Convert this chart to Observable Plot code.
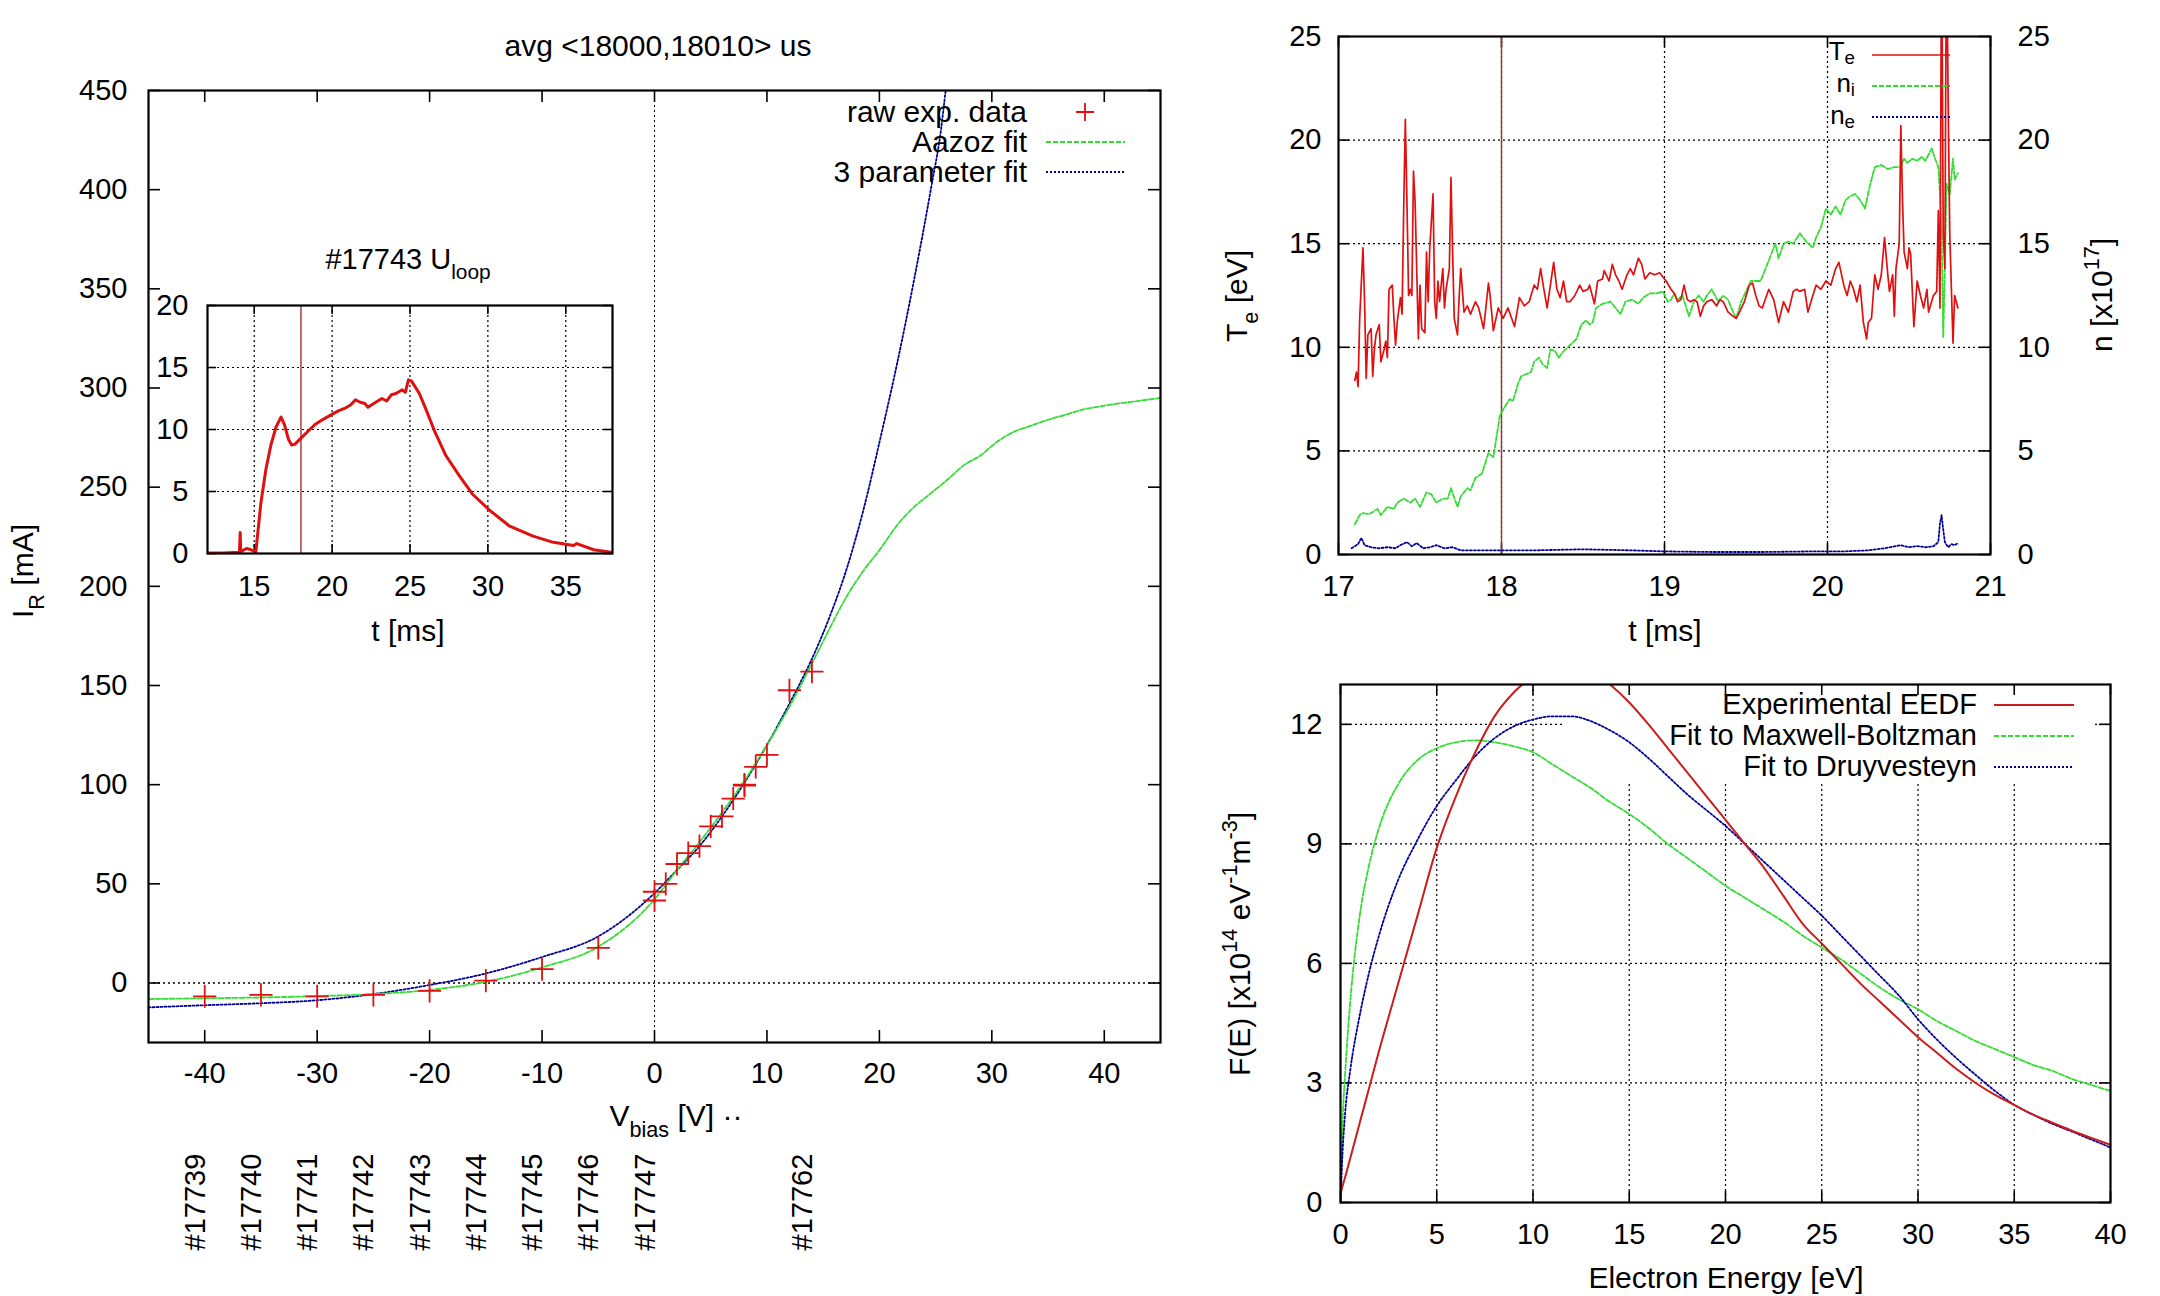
<!DOCTYPE html>
<html><head><meta charset="utf-8">
<script src="https://cdn.jsdelivr.net/npm/d3@7"></script>
<script src="https://cdn.jsdelivr.net/npm/@observablehq/plot@0.6"></script>
<style>
html,body{margin:0;padding:0;background:#fff;overflow:hidden}
#wrap{position:relative;width:2160px;height:1296px;background:#fff}
#wrap svg{position:absolute;left:0;top:0;max-width:none}
</style></head><body><div id="wrap"></div>
<script>
// ---------------- DATA ----------------
// main I-V panel
const vTicks = [-40,-30,-20,-10,0,10,20,30,40];
const iTicks = [0,50,100,150,200,250,300,350,400,450];
const rawV = [-40,-35,-30,-25,-20,-15,-10,-5,0,0,1,2,3,4,5,6,7,8,8,9,10,12,14];
const rawI = [-6.7,-6,-6.7,-6,-4,1.2,7,17.7,41.6,46,50,60,65.5,69,79,84,93,99.5,100,109,115,147.6,157];
const aazozV = [-45,-40,-35,-30,-25,-20,-15,-10,-5,0,2,4,6,8,10,12.2,14,15.6,17.1,18.6,20.1,21.6,23.1,24.6,26.1,27.5,29,30.5,32,33.5,35,36.5,38,39.5,41,42.4,45];
const aazozI = [-8.1,-7.7,-7.3,-6.6,-5.6,-3.5,0.6,7.9,18.3,42.2,57,71,86,102,120,141.4,161,179,195,208,219,231,240,247,254,261,266,273,278,281,284,286.4,289,290.6,292,293,295];
const threeV = [-45,-40,-35,-30,-25,-20,-15,-10,-5,0,2,4,6,8,10,12.2,13.8,15.6,17.1,18.6,20.1,21.6,23.1,24.6,25.5,25.9,26.5];
const threeI = [-12.3,-11.2,-10.2,-8.7,-5.6,-1,4.8,13.1,23.5,45.3,57,69,84,101,120,143,161,185,209,239,275,313,355,401,431,450,470];
const zeroLine = [0];
const shotV = [-40,-35,-30,-25,-20,-15,-10,-5,0,14];
const shotLabel = ["#17739","#17740","#17741","#17742","#17743","#17744","#17745","#17746","#17747","#17762"];
// inset U_loop
const uTicksX = [15,20,25,30,35];
const uTicksY = [0,5,10,15,20];
const uT = [12,13,14.05,14.1,14.13,14.5,14.8,15.0,15.1,15.43,15.75,16.08,16.4,16.72,16.94,17.2,17.4,17.6,18.0,18.4,18.9,19.4,19.96,20.4,20.8,21.2,21.5,21.8,22.1,22.3,22.55,22.8,23.2,23.5,23.8,24.1,24.5,24.7,24.9,25.1,25.3,25.6,26.0,26.6,27.3,28.15,29.0,30.1,31.4,32.9,34.2,35.5,35.7,36.8,37.9];
const uV = [0.05,0.05,0.1,1.7,0.15,0.4,0.3,0.2,0.1,4.1,6.8,8.8,10.2,11.0,10.4,9.2,8.75,8.8,9.3,9.8,10.4,10.8,11.2,11.5,11.7,12.0,12.4,12.2,12.1,11.8,12.0,12.2,12.5,12.3,12.8,12.9,13.2,13.0,14.0,13.9,13.5,12.9,11.7,9.8,7.9,6.3,4.8,3.5,2.2,1.4,0.9,0.65,0.8,0.3,0.1];
const shotMark = [18];
// top-right Te / n
const tTicksX = [17,18,19,20,21];
const tTicksY = [0,5,10,15,20,25];
const tGridX = [18,19,20];
const tGridY = [5,10,15,20];
const teT = [17.10,17.11,17.12,17.13,17.15,17.16,17.17,17.18,17.20,17.21,17.22,17.23,17.25,17.26,17.27,17.28,17.29,17.30,17.31,17.33,17.34,17.35,17.36,17.38,17.39,17.40,17.41,17.42,17.43,17.44,17.45,17.46,17.47,17.49,17.50,17.51,17.53,17.54,17.55,17.56,17.58,17.59,17.60,17.61,17.62,17.64,17.65,17.66,17.68,17.69,17.70,17.71,17.73,17.74,17.75,17.77,17.79,17.81,17.84,17.86,17.89,17.90,17.92,17.93,17.95,17.98,18.01,18.04,18.08,18.11,18.14,18.17,18.20,18.22,18.24,18.26,18.28,18.30,18.32,18.34,18.36,18.38,18.40,18.42,18.45,18.48,18.50,18.53,18.54,18.57,18.59,18.62,18.63,18.66,18.68,18.70,18.72,18.74,18.77,18.79,18.81,18.84,18.86,18.88,18.91,18.94,18.97,19.01,19.04,19.06,19.08,19.10,19.12,19.14,19.16,19.18,19.20,19.22,19.24,19.26,19.29,19.32,19.34,19.36,19.39,19.42,19.44,19.46,19.49,19.52,19.54,19.56,19.58,19.60,19.64,19.67,19.70,19.73,19.76,19.79,19.81,19.83,19.86,19.88,19.91,19.93,19.96,19.99,20.02,20.05,20.07,20.10,20.12,20.14,20.16,20.18,20.20,20.22,20.24,20.25,20.27,20.29,20.31,20.33,20.35,20.37,20.38,20.40,20.41,20.42,20.44,20.45,20.46,20.47,20.49,20.50,20.51,20.53,20.55,20.57,20.59,20.61,20.62,20.65,20.67,20.68,20.69,20.70,20.71,20.72,20.73,20.74,20.75,20.77,20.78,20.80];
const teV = [8.4,8.8,8.1,11.4,14.8,12.2,8.5,10.6,10.9,8.6,9.9,10.6,11.1,9.3,9.6,9.9,10.3,9.5,12.8,13.0,11.4,10.1,11.2,12.4,11.6,16.7,21.0,17.0,12.5,12.8,12.5,18.5,17.0,10.4,13.0,10.9,10.7,14.6,12.2,14.8,17.4,12.2,11.4,13.2,12.2,13.8,11.9,12.8,13.8,18.2,14.6,11.4,10.6,12.4,13.8,11.7,12.0,11.6,12.2,11.9,10.9,11.6,13.1,12.5,10.8,11.9,11.4,11.9,11.0,12.4,12.0,12.2,13.0,12.8,13.8,12.8,11.9,13.0,14.1,12.8,12.4,13.2,12.2,12.2,12.5,13.0,12.7,12.8,13.0,12.1,13.2,13.3,13.7,13.2,14.0,13.5,13.2,12.8,13.5,13.8,13.5,14.3,14.0,13.3,13.6,13.5,13.6,13.2,12.8,12.6,12.2,12.3,13.0,12.3,12.2,12.3,12.2,11.5,12.0,12.2,12.3,12.0,12.3,12.2,11.7,11.5,11.4,11.7,12.2,13.0,13.1,12.5,12.0,11.9,12.8,12.3,11.2,12.2,11.7,12.7,12.8,12.7,12.8,11.7,12.5,13.0,12.8,13.2,13.0,13.8,14.1,13.0,12.5,13.2,12.8,12.2,13.0,11.2,10.4,11.2,11.4,13.5,12.8,13.5,15.3,13.5,12.7,13.5,11.5,13.8,15.0,20.7,17.1,14.6,13.8,14.8,14.5,11.0,13.2,12.5,11.9,12.8,11.7,12.5,12.7,16.6,11.9,30,15.5,13.8,30,22.0,15.5,10.2,12.5,11.9];
const niT = [17.10,17.13,17.15,17.19,17.24,17.26,17.30,17.34,17.36,17.40,17.44,17.47,17.50,17.54,17.57,17.60,17.64,17.67,17.69,17.73,17.75,17.79,17.81,17.84,17.88,17.92,17.95,17.97,17.99,18.01,18.05,18.07,18.10,18.12,18.15,18.18,18.20,18.23,18.25,18.28,18.30,18.33,18.35,18.38,18.42,18.46,18.49,18.52,18.54,18.56,18.58,18.62,18.67,18.70,18.73,18.76,18.80,18.84,18.87,18.91,18.95,18.99,19.02,19.04,19.06,19.08,19.11,19.15,19.18,19.21,19.24,19.26,19.29,19.33,19.36,19.39,19.41,19.44,19.47,19.50,19.53,19.56,19.59,19.62,19.66,19.68,19.70,19.73,19.76,19.79,19.83,19.87,19.91,19.93,19.96,19.99,20.02,20.05,20.08,20.11,20.14,20.17,20.20,20.23,20.26,20.29,20.33,20.37,20.41,20.45,20.47,20.49,20.52,20.55,20.58,20.60,20.64,20.66,20.68,20.69,20.70,20.71,20.72,20.73,20.75,20.77,20.78,20.80];
const niV = [1.45,1.9,2.0,1.95,2.2,1.9,2.3,2.2,2.5,2.7,2.5,2.7,2.3,3.0,2.9,2.5,2.7,2.7,3.2,2.3,2.8,3.2,3.1,3.7,3.9,4.9,4.7,5.7,6.7,7.0,7.5,7.4,8.2,8.6,8.7,8.8,9.3,9.5,9.2,9.0,9.9,9.8,9.5,9.8,10.1,10.4,11.1,11.3,11.1,11.2,11.9,12.1,12.2,11.9,11.6,12.2,12.3,12.1,12.4,12.6,12.6,12.7,12.2,12.3,12.6,12.3,12.5,11.5,12.2,12.5,12.2,12.5,12.8,12.2,12.5,12.3,11.9,11.4,12.2,12.7,13.2,13.2,13.2,13.8,14.6,15.0,14.3,15.0,15.1,15.0,15.5,15.1,14.8,15.3,15.8,16.7,16.4,16.8,16.4,17.1,17.3,17.4,17.1,16.7,17.8,18.7,18.8,18.6,18.7,18.7,19.1,18.9,19.1,19.0,19.2,19.0,19.6,19.1,18.7,17.4,15.5,10.5,13.8,17.9,17.4,19.1,18.1,18.4];
const neT = [17.08,17.10,17.12,17.14,17.16,17.20,17.25,17.30,17.35,17.38,17.42,17.45,17.48,17.52,17.56,17.60,17.65,17.70,17.75,17.85,18.0,18.2,18.5,18.8,19.0,19.3,19.6,19.9,20.1,20.25,20.35,20.45,20.5,20.55,20.6,20.65,20.68,20.69,20.70,20.71,20.72,20.74,20.76,20.78,20.80];
const neV = [0.3,0.4,0.5,0.8,0.45,0.35,0.3,0.35,0.3,0.45,0.6,0.4,0.55,0.3,0.35,0.45,0.3,0.35,0.2,0.2,0.2,0.2,0.25,0.2,0.15,0.12,0.12,0.15,0.15,0.2,0.3,0.45,0.35,0.4,0.35,0.4,0.6,1.5,1.9,1.2,0.6,0.35,0.5,0.45,0.55];
// bottom-right EEDF
const eTicksX = [0,5,10,15,20,25,30,35,40];
const eTicksY = [0,3,6,9,12];
const eGridX = [5,10,15,20,25,30,35];
const eGridY = [3,6,9,12];
const energy = [0,0.1,0.25,0.5,1,1.5,2,3,4,5,6,7,8,9,10,11,12,13,14,15,16,17,18,19,20,21,22,23,24,25,26,27,28,29,30,31,32,33,34,35,36,37,38,39,40];
const eedfExp = [0.2,0.4,0.65,1.1,2.0,2.9,3.8,5.5,7.2,8.9,10.2,11.3,12.2,12.8,13.2,13.45,13.5,13.35,13.0,12.55,12.0,11.4,10.8,10.2,9.6,9.0,8.4,7.7,7.0,6.5,6.0,5.5,5.05,4.6,4.15,3.75,3.35,3.0,2.7,2.45,2.2,2.0,1.8,1.62,1.45];
const eedfMB = [0,1.9,3.3,5.0,7.2,8.5,9.4,10.5,11.1,11.4,11.55,11.6,11.55,11.45,11.3,11.0,10.7,10.4,10.05,9.75,9.4,9.0,8.65,8.3,7.95,7.65,7.35,7.05,6.7,6.4,6.1,5.75,5.4,5.1,4.85,4.55,4.3,4.05,3.85,3.65,3.45,3.3,3.1,2.95,2.8];
const eedfDr = [0,1.2,2.3,3.3,4.7,5.8,6.7,8.1,9.1,9.95,10.6,11.2,11.65,11.95,12.12,12.2,12.2,12.08,11.85,11.55,11.15,10.7,10.25,9.85,9.45,9.0,8.55,8.1,7.65,7.2,6.7,6.2,5.7,5.2,4.6,4.08,3.62,3.2,2.8,2.45,2.2,1.97,1.78,1.58,1.38];

// ---------------- STYLE ----------------
const FONT = "'Liberation Sans', Arial, Helvetica, sans-serif";
const RED = "#e01010", RED2 = "#cc1c1c", GREEN = "#33dd33", BLUE = "#000099", VLINE = "#a3302b";
const DASH_G = "5,2", DASH_B = "2,2";
const W = 2160, H = 1296, TICK = 29;
const wrap = document.getElementById("wrap");
const fmt = d => String(d);
const zip = (a, b) => a.map((x, i) => ({x, y: b[i]}));

function panel(f, o) {
  return Plot.plot({
    width: W, height: H,
    marginLeft: f.l, marginRight: W - f.r, marginTop: f.t, marginBottom: H - f.b,
    style: {background: "transparent", fontFamily: FONT, fontSize: TICK + "px", color: "#000", overflow: "visible"},
    ...o
  });
}
function frameTicks(f, xv, yv, len = 11) {
  const fw = f.r - f.l, fh = f.b - f.t;
  const st = {stroke: "#000", strokeOpacity: 1, strokeWidth: 1.6};
  return [
    Plot.gridX(xv, {...st, insetTop: fh - len}),
    Plot.gridX(xv, {...st, insetBottom: fh - len}),
    Plot.gridY(yv, {...st, insetRight: fw - len}),
    Plot.gridY(yv, {...st, insetLeft: fw - len})
  ];
}
const dotted = {stroke: "#000", strokeOpacity: 1, strokeWidth: 1.2, strokeDasharray: "2,3"};

// ---------------- MAIN PANEL ----------------
const f1 = {l: 148, r: 1160, t: 90, b: 1042};
const mainPlot = panel(f1, {
  x: {domain: [-45, 45], label: null},
  y: {domain: [-30, 450], label: null},
  marks: [
    ...frameTicks(f1, vTicks, iTicks, 12),
    Plot.ruleX(zeroLine, {...dotted, strokeWidth: 1}),
    Plot.ruleY(zeroLine, {...dotted, strokeWidth: 1.4}),
    Plot.line(zip(threeV, threeI), {x: "x", y: "y", stroke: BLUE, strokeWidth: 1.8, strokeDasharray: DASH_B, curve: "monotone-x", clip: true}),
    Plot.line(zip(aazozV, aazozI), {x: "x", y: "y", stroke: GREEN, strokeWidth: 1.8, strokeDasharray: DASH_G, curve: "monotone-x", clip: true}),
    Plot.dot(zip(rawV, rawI), {x: "x", y: "y", symbol: "plus", r: 7.5, stroke: RED, strokeWidth: 1.8}),
    Plot.frame({stroke: "#000", strokeWidth: 2.2}),
    Plot.axisX(vTicks, {tickSize: 0, tickPadding: 20, tickFormat: fmt, label: null}),
    Plot.axisY(iTicks, {tickSize: 0, tickPadding: 21, tickFormat: fmt, label: null}),
    Plot.text(zip(shotV, shotLabel), {x: "x", text: "y", frameAnchor: "bottom", dy: 208, rotate: -90, textAnchor: "start", fontSize: 29})
  ]
});
wrap.appendChild(mainPlot);

// ---------------- INSET ----------------
const f4 = {l: 207, r: 612, t: 305, b: 553};
const inset = panel(f4, {
  x: {domain: [12, 38], label: null},
  y: {domain: [0, 20], label: null},
  marks: [
    Plot.gridX(uTicksX, dotted),
    Plot.gridY([5, 10, 15], dotted),
    ...frameTicks(f4, uTicksX, uTicksY, 9),
    Plot.ruleX(shotMark, {stroke: VLINE, strokeWidth: 1.4}),
    Plot.line(zip(uT, uV), {x: "x", y: "y", stroke: RED, strokeWidth: 3, clip: true}),
    Plot.frame({stroke: "#000", strokeWidth: 2.2}),
    Plot.axisX(uTicksX, {tickSize: 0, tickPadding: 22, tickFormat: fmt, label: null}),
    Plot.axisY(uTicksY, {tickSize: 0, tickPadding: 19, tickFormat: fmt, label: null})
  ]
});
wrap.appendChild(inset);

// ---------------- TOP RIGHT ----------------
const f2 = {l: 1338, r: 1990, t: 36, b: 554};
const trPlot = panel(f2, {
  x: {domain: [17, 21], label: null},
  y: {domain: [0, 25], label: null},
  marks: [
    Plot.gridX(tGridX, dotted),
    Plot.gridY(tGridY, dotted),
    ...frameTicks(f2, tTicksX, tTicksY, 11),
    Plot.ruleX(shotMark, {stroke: VLINE, strokeWidth: 1.4}),
    Plot.line(zip(neT, neV), {x: "x", y: "y", stroke: BLUE, strokeWidth: 1.8, strokeDasharray: DASH_B, clip: true}),
    Plot.line(zip(niT, niV), {x: "x", y: "y", stroke: GREEN, strokeWidth: 1.8, strokeDasharray: DASH_G, clip: true}),
    Plot.line(zip(teT, teV), {x: "x", y: "y", stroke: RED, strokeWidth: 1.7, clip: true}),
    Plot.frame({stroke: "#000", strokeWidth: 2.2}),
    Plot.axisX(tTicksX, {tickSize: 0, tickPadding: 21, tickFormat: fmt, label: null}),
    Plot.axisY(tTicksY, {tickSize: 0, tickPadding: 17, tickFormat: fmt, label: null}),
    Plot.axisY(tTicksY, {anchor: "right", tickSize: 0, tickPadding: 27, tickFormat: fmt, label: null})
  ]
});
wrap.appendChild(trPlot);

// ---------------- BOTTOM RIGHT ----------------
const f3 = {l: 1340, r: 2110, t: 684, b: 1202};
const keyMask = () => {
  const r = document.createElementNS("http://www.w3.org/2000/svg", "rect");
  r.setAttribute("x", 1563); r.setAttribute("y", 687); r.setAttribute("width", 529); r.setAttribute("height", 95);
  r.setAttribute("fill", "#fff");
  return r;
};
const brPlot = panel(f3, {
  x: {domain: [0, 40], label: null},
  y: {domain: [0, 13], label: null},
  marks: [
    Plot.gridX(eGridX, dotted),
    Plot.gridY(eGridY, dotted),
    keyMask,
    ...frameTicks(f3, eTicksX, eTicksY, 11),
    Plot.line(zip(energy, eedfMB), {x: "x", y: "y", stroke: GREEN, strokeWidth: 1.8, strokeDasharray: DASH_G, curve: "monotone-x", clip: true}),
    Plot.line(zip(energy, eedfDr), {x: "x", y: "y", stroke: BLUE, strokeWidth: 1.8, strokeDasharray: DASH_B, curve: "monotone-x", clip: true}),
    Plot.line(zip(energy, eedfExp), {x: "x", y: "y", stroke: RED2, strokeWidth: 2, curve: "monotone-x", clip: true}),
    Plot.frame({stroke: "#000", strokeWidth: 2.2}),
    Plot.axisX(eTicksX, {tickSize: 0, tickPadding: 21, tickFormat: fmt, label: null}),
    Plot.axisY(eTicksY, {tickSize: 0, tickPadding: 18, tickFormat: fmt, label: null})
  ]
});
wrap.appendChild(brPlot);

// ---------------- OVERLAY: titles, labels, keys ----------------
const ov = d3.select(wrap).append("svg").attr("width", W).attr("height", H)
  .attr("font-family", FONT).style("overflow", "visible");
function rich(x, y, parts, {size = 30, anchor = "middle", rotate = 0, sub = 0.36} = {}) {
  const t = ov.append("text").attr("x", x).attr("y", y).attr("text-anchor", anchor)
    .attr("font-size", size).attr("fill", "#000");
  if (rotate) t.attr("transform", `rotate(${rotate},${x},${y})`);
  let shift = 0;
  for (const [s, kind] of parts) {
    const target = kind === "sub" ? size * sub : kind === "sup" ? -size * 0.45 : 0;
    const sp = t.append("tspan").attr("dy", target - shift).text(s);
    if (kind) sp.attr("font-size", size * 0.72);
    shift = target;
  }
}
function keyLine(x1, x2, y, color, dash, w = 1.8) {
  ov.append("line").attr("x1", x1).attr("x2", x2).attr("y1", y).attr("y2", y)
    .attr("stroke", color).attr("stroke-width", w).attr("stroke-dasharray", dash || null);
}
// main
rich(658, 56, [["avg <18000,18010> us"]]);
rich(33, 571, [["I"], ["R", "sub"], [" [mA]"]], {rotate: -90});
rich(676, 1126, [["V"], ["bias", "sub"], [" [V]  ··"]]);
rich(1027, 122, [["raw exp. data"]], {anchor: "end"});
rich(1027, 152, [["Aazoz fit"]], {anchor: "end"});
rich(1027, 182, [["3 parameter fit"]], {anchor: "end"});
ov.append("path").attr("d", "M1076,112H1094M1085,103V121").attr("stroke", RED).attr("stroke-width", 1.8);
keyLine(1046, 1125, 142, GREEN, DASH_G);
keyLine(1046, 1125, 172, BLUE, DASH_B);
// inset
rich(408, 269, [["#17743 U"], ["loop", "sub"]], {size: 29});
rich(408, 641, [["t [ms]"]]);
// top right
rich(1247, 296, [["T"], ["e", "sub"], [" [eV]"]], {rotate: -90});
rich(2112, 295, [["n [x10"], ["17", "sup"], ["]"]], {rotate: -90});
rich(1665, 641, [["t [ms]"]]);
rich(1855, 60, [["T"], ["e", "sub"]], {anchor: "end", size: 26, sub: 0.15});
rich(1855, 92, [["n"], ["i", "sub"]], {anchor: "end", size: 26, sub: 0.15});
rich(1855, 124, [["n"], ["e", "sub"]], {anchor: "end", size: 26, sub: 0.15});
keyLine(1872, 1950, 55, RED, null, 1.6);
keyLine(1872, 1950, 86, GREEN, DASH_G);
keyLine(1872, 1950, 117, BLUE, DASH_B);
// bottom right
rich(1726, 1288, [["Electron Energy [eV]"]]);
rich(1250, 944, [["F(E) [x10"], ["14", "sup"], [" eV"], ["-1", "sup"], ["m"], ["-3", "sup"], ["]"]], {rotate: -90});
rich(1977, 714, [["Experimental EEDF"]], {anchor: "end", size: 29});
rich(1977, 745, [["Fit to Maxwell-Boltzman"]], {anchor: "end", size: 29});
rich(1977, 776, [["Fit to Druyvesteyn"]], {anchor: "end", size: 29});
keyLine(1994, 2074, 705, RED2, null, 2);
keyLine(1994, 2074, 736, GREEN, DASH_G);
keyLine(1994, 2074, 767, BLUE, DASH_B);
</script></body></html>
